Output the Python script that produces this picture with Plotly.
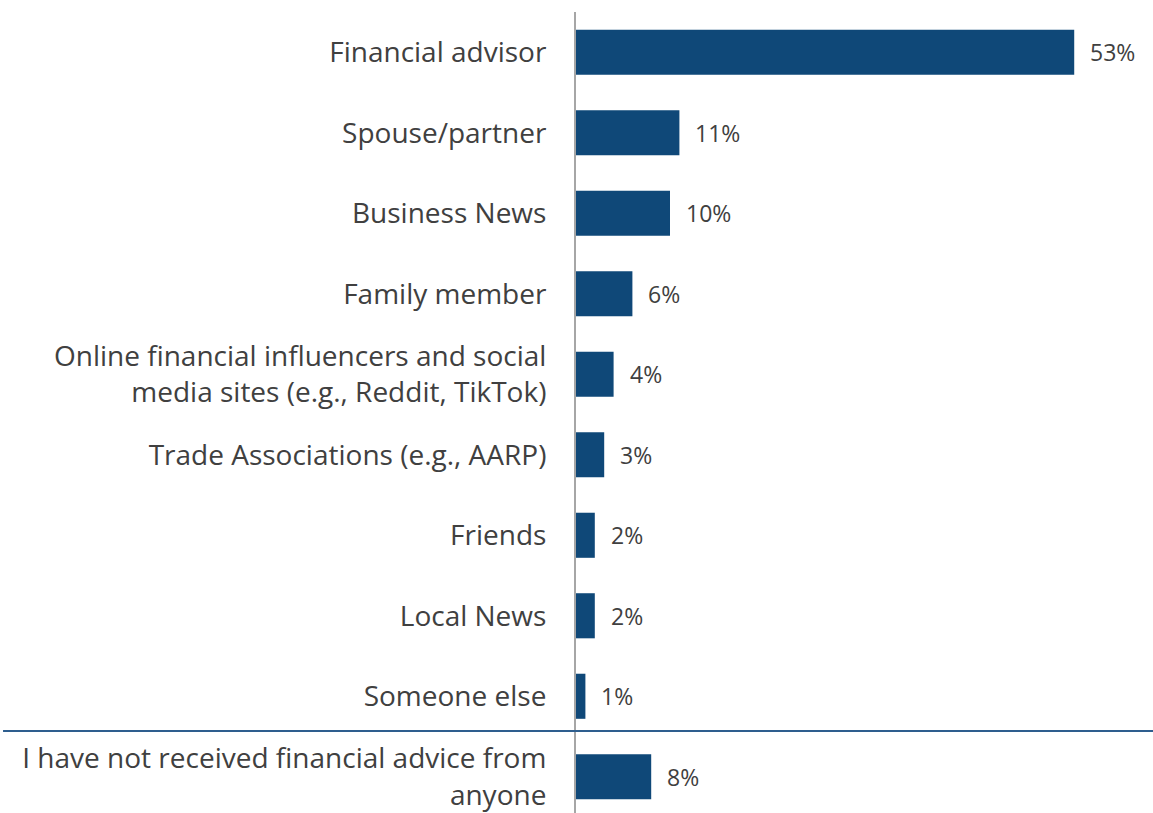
import plotly.graph_objects as go

# Sources of financial advice (share of respondents, %)
categories = [
    "Financial advisor",
    "Spouse/partner",
    "Business News",
    "Family member",
    "Online financial influencers and social<br>media sites (e.g., Reddit, TikTok)",
    "Trade Associations (e.g., AARP)",
    "Friends",
    "Local News",
    "Someone else",
    "I have not received financial advice from<br>anyone",
]
values = [53, 11, 10, 6, 4, 3, 2, 2, 1, 8]

BAR_COLOR = "#0F4878"
TEXT_COLOR = "#404040"
FONT = "Open Sans"

fig = go.Figure(
    go.Bar(
        x=values,
        y=categories,
        orientation="h",
        marker=dict(color=BAR_COLOR, line=dict(width=0)),
        width=0.56,
        hoverinfo="skip",
    )
)

# value labels to the right of each bar
for cat, val in zip(categories, values):
    fig.add_annotation(
        x=val, y=cat, text=f"{val}%", showarrow=False,
        xanchor="left", yanchor="middle", xshift=14,
        font=dict(family=FONT, size=23, color=TEXT_COLOR),
    )

# divider between the sources and the "no advice" answer
SEPARATOR_Y = 8.43
fig.add_shape(
    type="line", xref="paper", yref="y",
    x0=-0.993, x1=1, y0=SEPARATOR_Y, y1=SEPARATOR_Y,
    line=dict(color="#2E5E8E", width=2),
)

fig.update_layout(
    width=1153, height=813,
    margin=dict(l=576, r=0, t=12, b=0),
    paper_bgcolor="white", plot_bgcolor="white",
    showlegend=False,
    bargap=0.44,
    font=dict(family=FONT, color=TEXT_COLOR),
)
fig.update_xaxes(
    range=[0, 61.38], visible=False, showgrid=False, zeroline=False,
)
fig.update_yaxes(
    type="category",
    range=[9.45, -0.5],
    showgrid=False, zeroline=False,
    showline=True, linecolor="#A6A6A6", linewidth=2,
    ticks="", ticklabelstandoff=22,
    tickfont=dict(family=FONT, size=28, color=TEXT_COLOR),
)

fig.write_html("out.html")
